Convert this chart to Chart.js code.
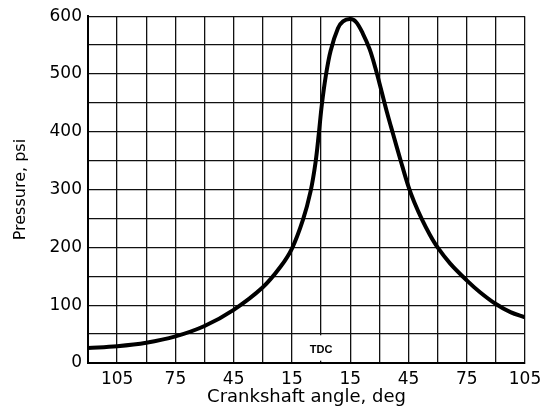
<!DOCTYPE html>
<html>
<head>
<meta charset="utf-8">
<script src="https://cdn.jsdelivr.net/npm/chart.js@4"></script>
<style>
  html, body { margin: 0; padding: 0; background: #fff; }
  #wrap { width: 542px; height: 416px; }
</style>
</head>
<body>
<div id="wrap"><canvas id="chart"></canvas></div>
<script>
// crank angle, deg (negative = before TDC)
var angles = [-120, -105, -90, -75, -60, -45, -30, -21, -15, -9.3, -5.4, -2.85, -1.15, 0.4, 2.45, 4.9, 8.7, 11.3, 15,
              18, 21.5, 25, 28, 31, 34, 37, 41, 45, 48, 52, 56, 60, 66.5, 75, 82, 90, 97.5, 105];
// cylinder pressure, psi
var pressures = [26, 29, 35, 46, 64, 92, 131, 166, 198, 248, 297, 347, 397, 447, 497, 540, 579, 591, 595,
                 590, 570, 543, 510, 472, 433, 397, 350, 305, 278, 248, 222, 200, 172, 143, 122, 102, 88, 79];
var xLabeled = [-105, -75, -45, -15, 15, 45, 75, 105];
var yLabeled = [0, 100, 200, 300, 400, 500, 600];

var points = angles.map(function (a, i) { return { x: a, y: pressures[i] }; });

var tdcLabel = {
  id: 'tdcLabel',
  afterDraw: function (chart) {
    var ctx = chart.ctx,
        x = chart.scales.x.getPixelForValue(0),
        yTop = chart.scales.y.getPixelForValue(48),
        yBot = chart.scales.y.getPixelForValue(4);
    ctx.save();
    ctx.fillStyle = '#fff';
    ctx.fillRect(x - 2, yTop, 4, yBot - yTop);
    ctx.fillStyle = '#000';
    ctx.font = 'bold 11px "Liberation Sans"';
    ctx.textAlign = 'center';
    ctx.textBaseline = 'middle';
    ctx.fillText('TDC', x, chart.scales.y.getPixelForValue(23));
    ctx.restore();
  }
};

new Chart(document.getElementById('chart'), {
  type: 'line',
  data: {
    datasets: [{
      data: points,
      borderColor: '#000',
      borderWidth: 4,
      pointRadius: 0,
      fill: false,
      tension: 0.35
    }]
  },
  options: {
    responsive: true,
    maintainAspectRatio: false,
    animation: false,
    events: [],
    layout: { padding: { top: 15, right: 17, left: 0, bottom: 0 } },
    plugins: { legend: { display: false }, tooltip: { enabled: false } },
    scales: {
      x: {
        type: 'linear',
        min: -120,
        max: 105,
        afterFit: function (scale) {
          scale.height = 53;
          scale.paddingLeft = 0;
          scale.paddingRight = 0;
        },
        afterBuildTicks: function (scale) {
          var t = [];
          for (var v = -120; v <= 105; v += 15) t.push({ value: v });
          scale.ticks = t;
        },
        grid: { color: '#111', lineWidth: 1.3, drawTicks: false },
        border: { color: '#000', width: 2 },
        ticks: {
          autoSkip: false,
          maxRotation: 0,
          padding: 6,
          color: '#000',
          font: { family: 'DejaVu Sans', size: 17 },
          callback: function (v) { return xLabeled.indexOf(v) >= 0 ? String(Math.abs(v)) : ''; }
        },
        title: {
          display: true,
          text: 'Crankshaft angle, deg',
          color: '#000',
          font: { family: 'DejaVu Sans', size: 18 },
          padding: { top: 0, bottom: 8 }
        }
      },
      y: {
        min: 0,
        max: 600,
        afterFit: function (scale) { scale.width = 88; },
        grid: { color: '#111', lineWidth: 1.3, drawTicks: false },
        border: { color: '#000', width: 2 },
        ticks: {
          stepSize: 50,
          padding: 6,
          color: '#000',
          font: { family: 'DejaVu Sans', size: 17 },
          callback: function (v) { return yLabeled.indexOf(v) >= 0 ? String(v) : ''; }
        },
        title: {
          display: true,
          text: 'Pressure, psi',
          color: '#000',
          font: { family: 'DejaVu Sans', size: 16 },
          padding: { top: 11, bottom: 0 }
        }
      }
    }
  },
  plugins: [tdcLabel]
});
</script>
</body>
</html>
